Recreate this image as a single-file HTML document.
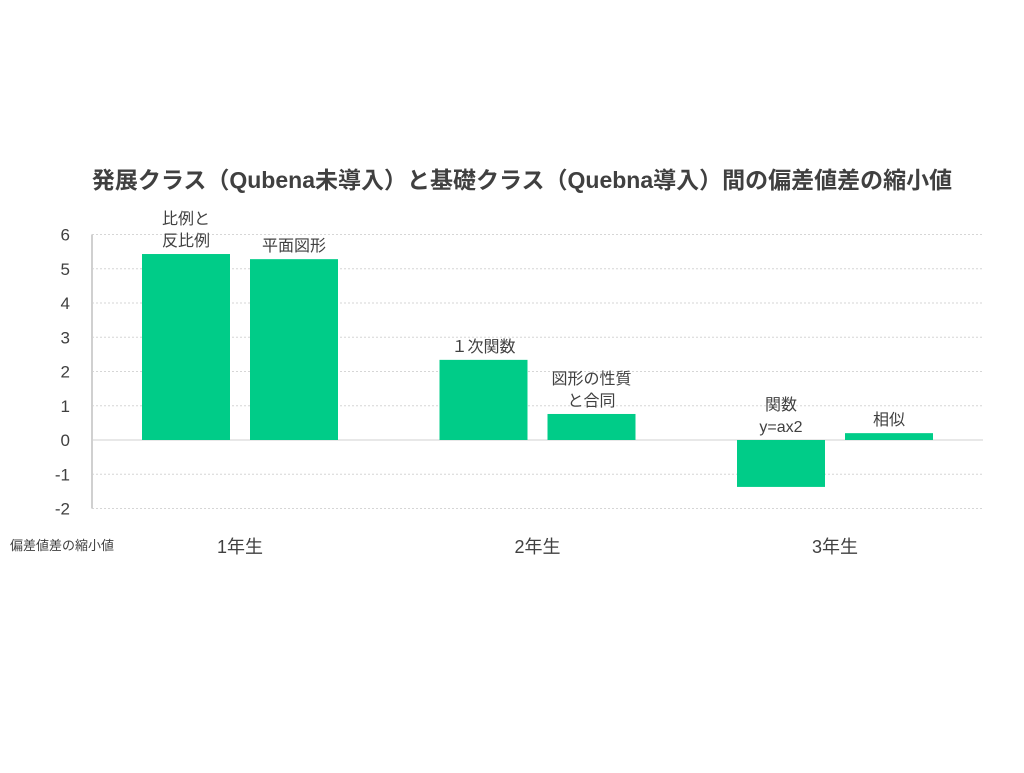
<!DOCTYPE html>
<html><head><meta charset="utf-8"><style>
body{margin:0;background:#fff;font-family:"Liberation Sans","Noto Sans CJK JP",sans-serif;}
svg text{font-family:"Liberation Sans","Noto Sans CJK JP",sans-serif;fill:#404040;}
</style></head><body>
<svg id="chart" width="1024" height="768" xmlns="http://www.w3.org/2000/svg">
<text x="522" y="188" text-anchor="middle" font-size="23" font-weight="bold">発展クラス（Qubena未導入）と基礎クラス（Quebna導入）間の偏差値差の縮小値</text>
<g id="grid"></g><g id="bars"></g><g id="labels"></g>
<text x="10" y="550" font-size="13">偏差値差の縮小値</text>
</svg>
<script>
const categories=[["比例と","反比例"],["平面図形"],["１次関数"],["図形の性質","と合同"],["関数","y=ax2"],["相似"]];
const values=[5.43,5.28,2.34,0.76,-1.37,0.2];
const groups=["1年生","2年生","3年生"];
const ticks=[6,5,4,3,2,1,0,-1,-2];
const NS="http://www.w3.org/2000/svg";
const y=v=>440-34.25*v;
const barX=i=>142+Math.floor(i/2)*297.5+(i%2)*108;
const bw=88;
function mk(tag,attrs,parent){const e=document.createElementNS(NS,tag);for(const k in attrs)e.setAttribute(k,attrs[k]);document.getElementById(parent).appendChild(e);return e;}
ticks.forEach(t=>{
 const l=mk("line",{x1:92,x2:983,y1:y(t),y2:y(t),stroke:t===0?"#d0d0d0":"#d6d6d6","stroke-width":1,"stroke-dasharray":t===0?"":"2,2"},"grid");
 
 
 const tx=mk("text",{x:70,y:y(t)+6,"text-anchor":"end","font-size":17},"grid");
 tx.textContent=t;
 
 
});
const ax=mk("line",{x1:92,x2:92,y1:y(6),y2:y(-2),stroke:"#d0d0d0","stroke-width":2},"grid");


values.forEach((v,i)=>{
 const r=mk("rect",{x:barX(i),y:Math.min(y(v),y(0)),width:bw,height:Math.abs(y(v)-y(0)),fill:"#00CC88"},"bars");
 
 
 const lines=categories[i];
 const base=(v>=0?y(v):y(0))-8;
 lines.forEach((s,j)=>{
  const t=mk("text",{x:barX(i)+bw/2,y:base-(lines.length-1-j)*22,"text-anchor":"middle","font-size":16},"labels");
  t.textContent=s;
  
  
 });
});
groups.forEach((g,k)=>{
 const t=mk("text",{x:240+k*297.5,y:553,"text-anchor":"middle","font-size":18},"labels");
 t.textContent=g;
 
 
});
</script>
</body></html>
